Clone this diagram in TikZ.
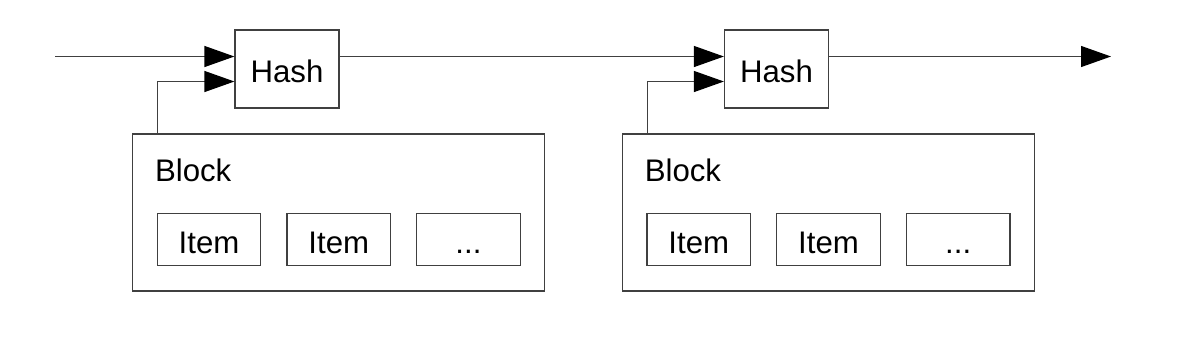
\documentclass[tikz,border=0pt]{standalone}
\usepackage{xcolor}
\usepackage{fontspec}
\setmainfont{Liberation Sans}
\usepackage{tikz}
\usetikzlibrary{positioning,calc,arrows.meta}

\begin{document}
\begin{tikzpicture}[x=0.5pt, y=-0.5pt,
    font=\fontsize{15.6}{18}\selectfont,
    box/.style={draw=black!75, line width=0.6pt, inner sep=0pt, text height=13.8pt, text depth=0pt},
    hashbox/.style={box, minimum width=52pt, minimum height=39pt},
    blockbox/.style={draw=black!75, line width=0.6pt, minimum width=206pt, minimum height=78.5pt},
    itembox/.style={box, minimum width=51.75pt, minimum height=26.25pt},
    flow/.style={draw=black!75, line width=0.6pt, -{Triangle[length=15pt, width=10.5pt, color=black]}},
    node distance=12.5pt]
    \useasboundingbox (0,0) rectangle (1178,344);

    % hashes
    \node[hashbox] (hash1) at (287,69) {Hash};
    \node[hashbox] (hash2) at (776.5,69) {Hash};

    % blocks
    \node[blockbox] (block1) at (338.75,212.5) {};
    \node[blockbox] (block2) at (828.5,212.5) {};
    \node[anchor=base west, inner sep=0pt] (label1) at ($(block1.north west)+(22.5,47.7)$) {Block};
    \node[anchor=base west, inner sep=0pt] (label2) at ($(block2.north west)+(22.5,47.7)$) {Block};

    % items
    \node[itembox] (item12) at ($(block1.center)+(0,27)$) {Item};
    \node[itembox, left=of item12] (item11) {Item};
    \node[itembox, right=of item12] (item13) {...};
    \node[itembox] (item22) at ($(block2.center)+(0,27)$) {Item};
    \node[itembox, left=of item22] (item21) {Item};
    \node[itembox, right=of item22] (item23) {...};

    % chain
    \coordinate (in) at (55,56.5);
    \coordinate (out) at (1111,56.5);
    \draw[flow] (in) -- (in -| hash1.west);
    \draw[flow] (hash1.east |- in) -- (in -| hash2.west);
    \draw[flow] (hash2.east |- in) -- (out);

    % block into hash
    \draw[flow] ($(block1.north west)+(25.5,0)$) |- ($(hash1.west)+(0,12.5)$);
    \draw[flow] ($(block2.north west)+(25.5,0)$) |- ($(hash2.west)+(0,12.5)$);
\end{tikzpicture}
\end{document}
